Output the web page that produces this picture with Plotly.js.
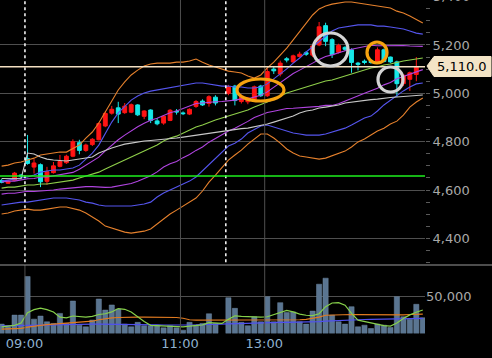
<!DOCTYPE html>
<html><head><meta charset="utf-8">
<script src="https://cdn.plot.ly/plotly-3.0.1.min.js"></script>
<style>html,body{margin:0;padding:0;background:#000;}#chart{width:492px;height:358px;}</style>
</head><body><div id="chart"></div>
<script>
// ---- time slots (5-minute bars) ----
const prevDayTimes = ['14:40','14:45','14:50','14:55'];
const todayTimes = ['09:00','09:05','09:10','09:15','09:20','09:25','09:30','09:35','09:40','09:45','09:50','09:55',
  '10:00','10:05','10:10','10:15','10:20','10:25','10:30','10:35','10:40','10:45','10:50','10:55',
  '11:00','11:05','11:10','11:15','11:20','11:25','11:30',
  '12:30','12:35','12:40','12:45','12:50','12:55',
  '13:00','13:05','13:10','13:15','13:20','13:25','13:30','13:35','13:40','13:45','13:50','13:55',
  '14:00','14:05','14:10','14:15','14:20','14:25','14:30','14:35','14:40','14:45','14:50','14:55','15:00'];
const tickTimes = ['09:00','11:00','13:00'];

// ---- OHLC ----
const openP = [4640,4628,4640,4662,
 4730,4695,4705,4636,4672,4698,4713,4740,4796,4764,
 4788,4808,4865,4918,4940,4920,4922,4952,4905,4931,
 4886,4877,4888,4926,4919,4914,4946,4968,4958,4984,null,
 5000,5030,4966,4965,4975,5030,4990,5100,5080,5143,
 5130,5152,5168,5158,5200,5280,5222,5170,5190,5180,
 5125,5133,5132,5132,5180,5150,5130,5040,5058,5078,null];
const highP = [4645,4640,4675,4665,
 4828,4728,4710,4696,4716,4745,4746,4810,4808,4792,
 4815,4880,4925,4948,4965,4960,4958,4955,4930,4934,
 4898,4908,4935,4935,4925,4938,4972,4975,4992,4992,null,
 5035,5035,4995,4985,5032,5035,5103,5112,5135,5150,
 5160,5172,5175,5200,5295,5292,5228,5205,5195,5186,
 5130,5140,5138,5190,5185,5152,5135,5078,5090,5150,null];
const lowP = [4628,4625,4638,4650,
 4705,4668,4612,4622,4668,4694,4708,4736,4748,4758,
 4782,4805,4860,4912,4877,4915,4918,4906,4893,4877,
 4868,4870,4885,4912,4910,4910,4940,4948,4945,4950,null,
 4992,4950,4958,4955,4970,4985,4985,5080,5070,5128,
 5125,5148,5155,5150,5195,5195,5146,5165,5175,5085,
 5095,5120,5122,5128,5128,5125,4985,5030,5010,5050,null];
const closeP = [4632,4636,4670,4658,
 4710,4712,4634,4676,4700,4718,4740,4800,4764,4786,
 4810,4875,4917,4934,4914,4947,4953,4911,4927,4888,
 4874,4905,4930,4923,4916,4934,4966,4952,4986,4960,null,
 5027,4970,4988,4980,5027,4990,5090,5093,5125,5138,
 5155,5162,5162,5196,5275,5215,5160,5198,5182,5128,
 5120,5128,5128,5180,5132,5130,5040,5075,5085,5110,null];

// ---- Bollinger bands (mid, ±1σ, ±2σ, ±3σ) and VWAP ----
const bbUpper3 = [4699,4703,4712,4716,
 4724,4732,4745,4749,4753,4757,4757,4770,4786,4815,
 4840,4877,4923,4972,5014,5047,5076,5096,5113,5121,
 5125,5125,5125,5129,5129,5134,5142,5129,5117,5109,5101,
 5092,5088,5084,5072,5063,5076,5105,5129,5158,5187,
 5221,5254,5287,5324,5349,5361,5369,5374,5378,5378,
 5374,5369,5365,5361,5357,5353,5340,5332,5320,5307,5291];
const bbLower3 = [4501,4505,4513,4517,
 4521,4517,4517,4521,4525,4530,4530,4525,4517,4505,
 4488,4472,4451,4443,4435,4426,4422,4426,4430,4439,
 4459,4480,4501,4517,4534,4550,4567,4596,4633,4662,4691,
 4724,4745,4765,4790,4811,4832,4832,4815,4794,4770,
 4753,4741,4737,4732,4728,4732,4741,4749,4761,4778,
 4799,4811,4828,4844,4856,4873,4885,4910,4943,4964,4981];
const bbUpper2 = [4637,4641,4645,4650,
 4654,4662,4674,4679,4683,4683,4687,4691,4703,4728,
 4753,4786,4836,4881,4919,4947,4972,4989,5001,5009,
 5014,5018,5022,5030,5034,5039,5043,5043,5039,5034,5030,
 5030,5026,5026,5022,5022,5026,5039,5059,5080,5101,
 5125,5146,5171,5192,5216,5237,5258,5270,5274,5278,
 5283,5283,5283,5278,5278,5274,5270,5266,5258,5249,5245];
const bbLower2 = [4538,4542,4546,4550,
 4550,4554,4559,4563,4567,4567,4567,4563,4559,4550,
 4546,4538,4534,4534,4534,4534,4534,4538,4542,4550,
 4571,4588,4600,4612,4625,4637,4654,4679,4708,4732,4757,
 4782,4794,4811,4836,4852,4865,4869,4861,4852,4844,
 4836,4832,4827,4827,4827,4832,4840,4848,4856,4869,
 4885,4898,4906,4927,4952,4972,4993,5010,5026,5039,5043];
const bbMid = [4608,4612,4612,4617,
 4621,4621,4625,4625,4629,4633,4637,4641,4650,4658,
 4666,4674,4687,4699,4712,4724,4737,4749,4761,4774,
 4786,4803,4815,4823,4836,4848,4861,4869,4881,4890,4898,
 4906,4914,4923,4931,4943,4952,4964,4976,4989,5001,
 5010,5018,5026,5034,5043,5051,5055,5063,5072,5080,
 5088,5096,5105,5109,5117,5121,5129,5134,5138,5142,5146];
const bbUpper1 = [4633,4637,4637,4642,
 4647,4648,4654,4654,4658,4662,4667,4673,4686,4702,
 4718,4736,4762,4786,4808,4827,4846,4862,4876,4889,
 4897,4910,4920,4927,4938,4948,4958,4960,4964,4965,4966,
 4968,4972,4977,4977,4985,4992,5006,5025,5046,5065,
 5082,5096,5112,5125,5140,5152,5159,5168,5176,5182,
 5187,5192,5199,5197,5198,5196,5198,5198,5196,5194,5194];
const bbLower1 = [4583,4587,4587,4592,
 4595,4594,4596,4596,4600,4604,4607,4609,4614,4614,
 4614,4612,4611,4612,4616,4621,4627,4636,4646,4659,
 4675,4695,4709,4718,4734,4747,4764,4778,4798,4814,4830,
 4844,4856,4869,4884,4900,4912,4921,4926,4932,4937,
 4938,4940,4940,4943,4946,4950,4950,4957,4967,4978,
 4988,5000,5011,5021,5035,5045,5060,5070,5080,5090,5098];
const vwap = [4648,4648,4647,4647,
 4753,4749,4737,4728,4724,4722,4720,4724,4728,4732,
 4737,4753,4765,4774,4782,4790,4794,4799,4803,4805,
 4807,4811,4813,4815,4819,4823,4827,4832,4836,4840,4844,
 4848,4852,4854,4856,4861,4865,4873,4881,4890,4898,
 4906,4919,4927,4931,4939,4943,4947,4952,4960,4964,
 4968,4972,4974,4976,4981,4983,4985,4987,4989,4993,4993];

// ---- Volume ----
const volume = [12600,9000,24700,24700,
 76500,19300,23400,15700,13500,27000,13500,43600,11200,9000,
 18000,46300,31500,38300,32800,12600,9000,15000,10400,10400,
 11200,7600,10400,7600,4500,15000,11200,13500,26500,13500,null,
 48100,33800,15000,10400,22500,15700,49500,15700,41400,28300,
 29000,15700,12600,30100,66200,74300,24700,15700,12600,36000,
 9000,11200,6700,12600,11200,8100,49500,22500,19300,39200,21100];
const volMaShort = [9000,9500,11000,14000,
 28000,32000,34000,32000,29000,22000,21000,23500,23000,22000,
 23000,25500,26500,29000,33500,32500,29000,22000,16000,11000,
 10500,10300,9800,9200,9000,9800,10300,11500,14500,14500,13500,
 19000,23800,23000,22500,22000,22000,22500,25500,28000,31000,
 29000,26000,24500,24000,26500,36000,41000,41500,38000,27000,
 18000,16000,14500,13000,10500,10000,14000,20300,25000,28500,31500];
const volMaMid = [5800,6200,6600,7000,
 8500,10000,11000,11800,12500,13000,13500,14000,14800,15500,
 16500,18500,20000,21000,21500,22000,22000,22000,22000,22000,
 22000,22000,22000,21500,20500,18500,18000,18000,18000,18000,18000,
 17800,17500,17500,18000,18000,18000,18000,18000,18000,18200,
 18300,18500,19000,20000,22000,24500,25000,25500,25500,25500,
 25300,25200,25200,25000,24800,24700,24800,25000,25500,25800,26000];
const volMaLong = [10300,10500,10800,11000,
 11300,11600,11900,12200,12400,12600,12600,12600,12600,12600,
 12600,12600,12600,12600,12600,12500,12400,12200,12000,11800,
 11600,11400,11300,11200,11200,11400,11700,12000,12300,12600,12900,
 13300,13600,13900,14200,14500,14700,14900,14900,14900,14900,
 15000,15000,15200,15500,16000,16500,17000,17500,17900,18200,
 18500,18800,18900,19000,19200,19400,19600,19800,20000,20200,20300];

const prevClose = 4658;
const lastPrice = 5110;
const topCutLabel = 5400;

// ---- build ----
const cats = prevDayTimes.map(t => 'D-1 ' + t).concat(todayTimes);
const idx = t => cats.indexOf(t);

const FONT = 'DejaVu Sans, Verdana, sans-serif';
const line = (y, color, xa, ya, w) => ({type:'scatter', mode:'lines', x:cats, y:y, xaxis:xa, yaxis:ya,
  line:{color:color, width:w||1.1}, hoverinfo:'skip', connectgaps:true});

const traces = [
  line(bbUpper3, '#e5802c', 'x', 'y'),
  line(bbLower3, '#e5802c', 'x', 'y'),
  line(bbUpper2, '#5555ee', 'x', 'y'),
  line(bbLower2, '#5555ee', 'x', 'y'),
  line(bbUpper1, '#b044e0', 'x', 'y'),
  line(bbLower1, '#b044e0', 'x', 'y'),
  line(bbMid, '#8fcf4a', 'x', 'y'),
  line(vwap, '#c8c8c8', 'x', 'y'),
  {type:'candlestick', x:cats, open:openP, high:highP, low:lowP, close:closeP, xaxis:'x', yaxis:'y',
   increasing:{line:{color:'#ff1414', width:1}, fillcolor:'#ff1414'},
   decreasing:{line:{color:'#16e8e8', width:1}, fillcolor:'#16e8e8'},
   whiskerwidth:0, hoverinfo:'skip'},
  {type:'bar', x:cats, y:volume, xaxis:'x2', yaxis:'y2', marker:{color:'#5a7591', line:{color:'#6f89a3', width:0.5}}, hoverinfo:'skip'},
  line(volMaLong, '#5050f0', 'x2', 'y2', 1.2),
  line(volMaMid, '#e07a20', 'x2', 'y2', 1.2),
  line(volMaShort, '#86d04a', 'x2', 'y2', 1.2)
];

const mainBottom = 1 - 265/358, volBottom = 1 - 333.5/358;
const PX = 425, PY = 358;
const px = v => v / PX, py = v => 1 - v / PY;
// pixel position of a price on the main axis (for the cut-off top label)
const yMin = 4290, yMax = 5386;
const priceToPy = p => (yMax - p) / (yMax - yMin) * 265;

const shapes = [];
['11:00','13:00'].forEach(t => shapes.push({type:'line', xref:'x', yref:'paper', x0:idx(t)-0.4, x1:idx(t)-0.4, y0:mainBottom, y1:1, line:{color:'#4f4f4f', width:1}}));
['09:00','11:00','13:00'].forEach(t => shapes.push({type:'line', xref:'x', yref:'paper', x0:idx(t)-0.4, x1:idx(t)-0.4, y0:volBottom, y1:mainBottom, line:{color:'#4f4f4f', width:1}}));
['09:00','12:30'].forEach(t => shapes.push({type:'line', xref:'x', yref:'paper', x0:idx(t)-0.4, x1:idx(t)-0.4, y0:mainBottom+0.008, y1:1, line:{color:'#ffffff', width:1.5, dash:'dot'}}));
shapes.push({type:'line', xref:'paper', yref:'paper', x0:0, x1:492/PX, y0:mainBottom, y1:mainBottom, line:{color:'#9a9a9a', width:1}});
shapes.push({type:'line', xref:'paper', yref:'y', x0:0, x1:1, y0:prevClose, y1:prevClose, line:{color:'#1ef01e', width:1.5}});
shapes.push({type:'line', xref:'paper', yref:'y', x0:0, x1:1, y0:lastPrice, y1:lastPrice, line:{color:'#f3dfc2', width:1.5}});
shapes.push({type:'circle', xref:'paper', yref:'paper', x0:px(237), x1:px(284), y0:py(101), y1:py(79), line:{color:'#f5a20f', width:3.2}});
shapes.push({type:'circle', xref:'paper', yref:'paper', x0:px(367), x1:px(387), y0:py(63), y1:py(42), line:{color:'#f5a20f', width:3.2}});
shapes.push({type:'circle', xref:'paper', yref:'paper', x0:px(313), x1:px(348), y0:py(66), y1:py(33), line:{color:'#d4d4d4', width:3.2}});
shapes.push({type:'circle', xref:'paper', yref:'paper', x0:px(378), x1:px(403), y0:py(92), y1:py(67), line:{color:'#d4d4d4', width:3.2}});
shapes.push({type:'path', xref:'paper', yref:'paper', layer:'above',
  path:`M ${px(427)},${py(66)} L ${px(434)},${py(56.5)} L ${px(491)},${py(56.5)} L ${px(491)},${py(76.5)} L ${px(434)},${py(76.5)} Z`,
  fillcolor:'#f3e4c6', line:{color:'#f3e4c6', width:1}});

const layout = {
  width:492, height:358, margin:{l:0, r:67, t:0, b:0},
  paper_bgcolor:'#000', plot_bgcolor:'#000', showlegend:false,
  font:{family:FONT, size:13, color:'#a8a8a8'},
  xaxis:{type:'category', categoryorder:'array', categoryarray:cats, range:[-0.25, 65.34], domain:[0,1], anchor:'y',
    showticklabels:false, showgrid:false, zeroline:false, showline:false, ticks:'', rangeslider:{visible:false}, fixedrange:true},
  yaxis:{domain:[mainBottom,1], range:[yMin,yMax], side:'right', dtick:200, tick0:0, tickformat:',d',
    showgrid:true, gridcolor:'#4f4f4f', gridwidth:1, zeroline:false, showline:false,
    ticks:'outside', ticklen:4, tickcolor:'#5a5a5a',
    minor:{dtick:50, ticks:'outside', ticklen:4, tickcolor:'#5a5a5a', showgrid:false},
    tickfont:{family:FONT, size:13, color:'#a8a8a8'}, fixedrange:true},
  xaxis2:{type:'category', categoryorder:'array', categoryarray:cats, matches:'x', anchor:'y2', domain:[0,1],
    tickmode:'array', tickvals:tickTimes, ticktext:tickTimes, ticks:'', showgrid:false, zeroline:false, showline:false,
    ticklabelshift:-3,
    tickfont:{family:FONT, size:13, color:'#8fb1cf'}, fixedrange:true},
  yaxis2:{domain:[volBottom, mainBottom], range:[0,92000], side:'right', tickmode:'array', tickvals:[50000], ticktext:['50,000'],
    showgrid:true, gridcolor:'#4f4f4f', zeroline:false, showline:false, ticks:'',
    tickfont:{family:FONT, size:13, color:'#a8a8a8'}, fixedrange:true},
  bargap:0.2,
  boxgap:0.15,
  shapes:shapes,
  annotations:[
    {xref:'paper', yref:'y', x:px(462), y:lastPrice, text:lastPrice.toLocaleString('en-US',{minimumFractionDigits:1}),
     showarrow:false, font:{family:FONT, size:13, color:'#000'}, xanchor:'center', yanchor:'middle'},
    {xref:'paper', yref:'paper', x:px(431), y:py(priceToPy(topCutLabel)), text:topCutLabel.toLocaleString('en-US'),
     showarrow:false, font:{family:FONT, size:13, color:'#a8a8a8'}, xanchor:'left', yanchor:'middle'}
  ]
};

Plotly.newPlot('chart', traces, layout, {displayModeBar:false, staticPlot:true});
</script>
</body></html>
